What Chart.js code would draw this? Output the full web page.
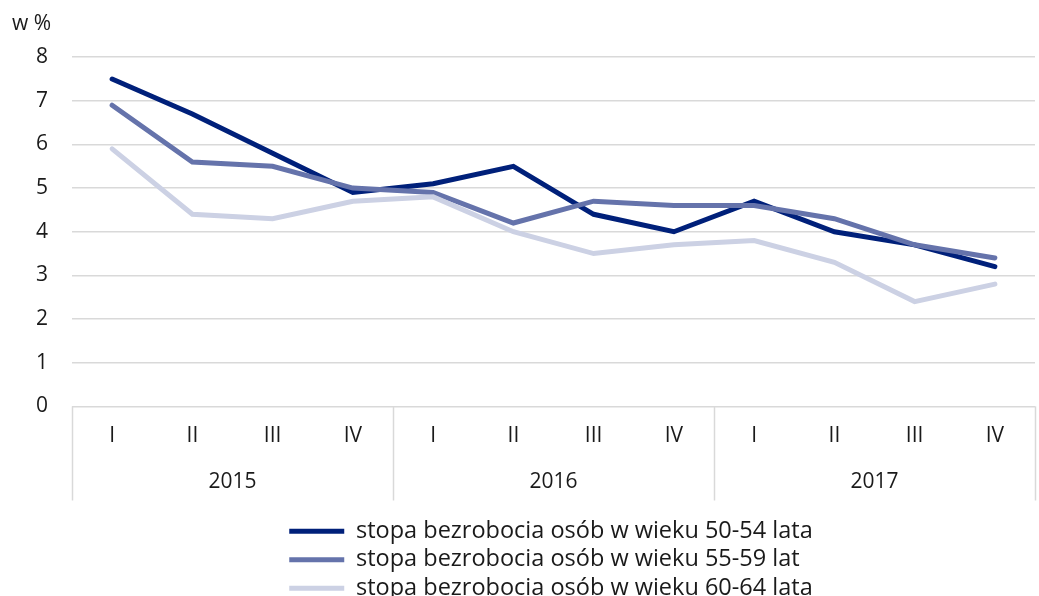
<!DOCTYPE html>
<html>
<head>
<meta charset="utf-8">
<script src="https://cdn.jsdelivr.net/npm/chart.js@4"></script>
<style>
  html, body { margin: 0; padding: 0; background: #fff; }
  #wrap { width: 1039px; height: 596px; }
</style>
</head>
<body>
<div id="wrap"><canvas id="myChart"></canvas></div>
<script>
const quarters = ['I', 'II', 'III', 'IV', 'I', 'II', 'III', 'IV', 'I', 'II', 'III', 'IV'];
const years = ['2015', '2016', '2017'];
const yTicks = [0, 1, 2, 3, 4, 5, 6, 7, 8];

const age5054 = [7.5, 6.7, 5.8, 4.9, 5.1, 5.5, 4.4, 4.0, 4.7, 4.0, 3.7, 3.2];
const age5559 = [6.9, 5.6, 5.5, 5.0, 4.9, 4.2, 4.7, 4.6, 4.6, 4.3, 3.7, 3.4];
const age6064 = [5.9, 4.4, 4.3, 4.7, 4.8, 4.0, 3.5, 3.7, 3.8, 3.3, 2.4, 2.8];

const FONT = 'Open Sans';
const TXT = '#1a1a1a';
const gridColor = '#d9d9d9';

const yearSeparators = {
  id: 'yearSeparators',
  afterLayout(chart) {
    // legend: one left-aligned column, centred under the plot area, a bit lower
    const lg = chart.legend;
    const area = chart.chartArea;
    const w = Math.max(...lg.lineWidths);
    const pad = lg.options.labels.padding;
    lg.left = (area.left + area.right) / 2 - w / 2 - pad;
    lg.right = lg.left + w + 2 * pad;
    lg.top += 14;
    lg.bottom += 14;
  },
  afterDraw(chart) {
    // vertical separators between year groups, spanning both label rows
    const x = chart.scales.x, x2 = chart.scales.x2;
    const c = chart.ctx;
    c.save();
    c.strokeStyle = gridColor;
    c.lineWidth = 1.5;
    for (let k = 0; k <= years.length; k++) {
      const px = Math.round(x.getPixelForValue(k * 4 - 0.5)) + 0.5;
      c.beginPath();
      c.moveTo(px, x.top);
      c.lineTo(px, x2.bottom);
      c.stroke();
    }
    c.restore();
  }
};

const ctx = document.getElementById('myChart');

new Chart(ctx, {
  type: 'line',
  data: {
    labels: quarters,
    datasets: [
      {
        label: 'stopa bezrobocia osób w wieku 50-54 lata',
        data: age5054,
        borderColor: '#00207a',
        backgroundColor: '#00207a',
        borderWidth: 5,
        borderCapStyle: 'round',
        pointRadius: 0,
        order: 2
      },
      {
        label: 'stopa bezrobocia osób w wieku 55-59 lat',
        data: age5559,
        borderColor: '#6573ab',
        backgroundColor: '#6573ab',
        borderWidth: 5,
        borderCapStyle: 'round',
        pointRadius: 0,
        order: 1
      },
      {
        label: 'stopa bezrobocia osób w wieku 60-64 lata',
        data: age6064,
        borderColor: '#ccd1e4',
        backgroundColor: '#ccd1e4',
        borderWidth: 5,
        borderCapStyle: 'round',
        pointRadius: 0,
        order: 0
      }
    ]
  },
  options: {
    responsive: true,
    maintainAspectRatio: false,
    animation: false,
    layout: { padding: { left: 12, right: 4, top: 11, bottom: 0 } },
    plugins: {
      tooltip: { enabled: false },
      title: {
        display: true,
        text: 'w %',
        align: 'start',
        color: TXT,
        font: { family: FONT, size: 21, weight: 'normal' },
        padding: { top: 0, bottom: 21 }
      },
      legend: {
        position: 'bottom',
        align: 'start',
        labels: {
          usePointStyle: true,
          pointStyle: 'line',
          pointStyleWidth: 55,
          color: TXT,
          font: { family: FONT, size: 23.5 },
          padding: 5,
          sort: (a, b) => a.datasetIndex - b.datasetIndex
        }
      }
    },
    scales: {
      y: {
        min: 0,
        max: 8,
        afterBuildTicks: (axis) => { axis.ticks = yTicks.map(v => ({ value: v })); },
        afterFit: (axis) => { axis.width = 60; },
        border: { display: false },
        grid: { color: gridColor, lineWidth: 1.5, drawTicks: false },
        ticks: { color: TXT, font: { family: FONT, size: 21 }, padding: 24 }
      },
      x: {
        offset: true,
        border: { display: false },
        grid: { display: false, drawTicks: false },
        ticks: { color: TXT, font: { family: FONT, size: 21 }, padding: 17, maxRotation: 0, autoSkip: false }
      },
      x2: {
        type: 'category',
        labels: years,
        position: 'bottom',
        offset: true,
        afterFit: (axis) => { axis.height = 35; },
        border: { display: false },
        grid: { display: false, drawTicks: false },
        ticks: { color: TXT, font: { family: FONT, size: 21 }, padding: 4, maxRotation: 0 }
      }
    }
  },
  plugins: [yearSeparators]
});
</script>
</body>
</html>
